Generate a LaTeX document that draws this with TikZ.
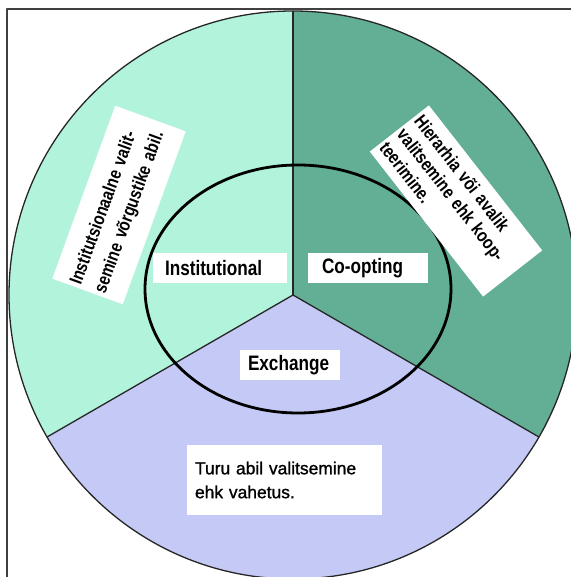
\documentclass[tikz,border=0pt]{standalone}
\usepackage{fontspec}
\setmainfont{Liberation Sans}
\newfontfamily\narrowsf[FakeStretch=0.82]{Liberation Sans}
\newfontfamily\heavysf[FakeBold=1.2]{Liberation Sans}
\definecolor{instgreen}{HTML}{B2F3DC}
\definecolor{coopgreen}{HTML}{62AF95}
\definecolor{exchblue}{HTML}{C4C9F5}
\tikzset{
  tag/.style={fill=white,inner ysep=0pt,align=left,minimum height=30bp,
    font=\narrowsf\bfseries\fontsize{21}{24}\selectfont},
  note/.style={fill=white,inner sep=0pt,align=left,text width=178bp,
    minimum width=184bp,minimum height=75bp,
    font=\narrowsf\bfseries\fontsize{18.5}{22}\selectfont},
  rim/.style={line width=1.3bp,black!85},
}
\begin{document}
\begin{tikzpicture}[line join=bevel]
\useasboundingbox (0bp,0bp) rectangle (571bp,577bp);
\clip (0bp,0bp) rectangle (571bp,577bp);
\coordinate (centre) at (293bp,282bp);
%% three sectors
\fill [instgreen] (centre) -- ++(90:284bp) arc[start angle=90,end angle=210,radius=284bp] -- cycle;
\fill [exchblue] (centre) -- ++(210:284bp) arc[start angle=210,end angle=330,radius=284bp] -- cycle;
\fill [coopgreen] (centre) -- ++(-30:284bp) arc[start angle=-30,end angle=90,radius=284bp] -- cycle;
\draw [rim] (centre) circle[radius=284bp];
\draw [rim] (centre) -- ++(90:284bp);
\draw [rim] (centre) -- ++(210:284bp);
\draw [rim] (centre) -- ++(-30:284bp);
%% inner ring
\draw [line width=2.8bp] (298bp,288bp) ellipse[x radius=153bp,y radius=124bp];
%% labels
\node (inst_tag) at (220bp,309bp) [tag,text width=110bp,inner xsep=12bp] {Institutional};
\node (coop_tag) at (368bp,309bp) [tag,text width=92bp,inner xsep=14bp] {Co-opting};
\node (exch_tag) at (290bp,212bp) [tag,text width=84bp,inner xsep=8bp] {Exchange};
\node (exch_note) at (284.5bp,97bp) [fill=white,align=left,text width=179bp,inner xsep=8bp,
  minimum height=70bp,font=\heavysf\fontsize{17.5}{24}\selectfont] {Turu abil valitsemine\\ehk vahetus.};
\node (inst_note) at (119bp,372bp) [note,rotate=70,
  font=\narrowsf\bfseries\fontsize{18.5}{26}\selectfont] {Institutsionaalne valit-\\semine võrgustike abil.};
\node (coop_note) at (456bp,376bp) [note,rotate=-52] {Hierarhia või avalik\\valitsemine ehk koop-\\teerimine.};
%% frame
\draw [line width=1.3bp,black!75] (7bp,0bp) -- (7bp,568bp) -- (571bp,568bp);
%
\end{tikzpicture}
\end{document}
